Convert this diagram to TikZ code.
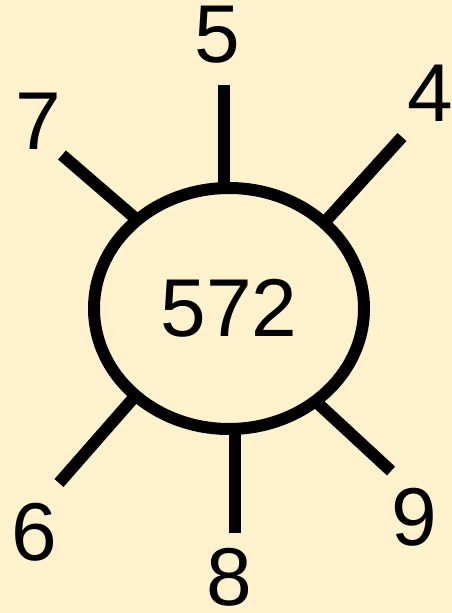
\documentclass[tikz,border=0pt]{standalone}
\usepackage{fontspec}
\setmainfont{Liberation Sans}
\usetikzlibrary{shapes.geometric}
\definecolor{bgyellow}{HTML}{FFF2CC}

\begin{document}
\begin{tikzpicture}[
  spoke/.style={line width=0.24cm},
  num/.style={inner sep=0pt,font=\fontsize{46.7}{56}\selectfont},
  hubnode/.style={ellipse,draw,line width=0.24cm,outer sep=0pt,inner sep=0pt,
    minimum width=5.40cm,minimum height=4.82cm,font=\fontsize{46.7}{56}\selectfont}
]

% ---- background ----
\fill[bgyellow] (0,0) rectangle (9.04,12.26);
\useasboundingbox (0,0) rectangle (9.04,12.26);

% ---- central ellipse ----
\node[hubnode] (hub) at (4.58,6.09) {572};

% ---- spoke ends ----
\coordinate (t5) at (4.48,10.56);
\coordinate (t4) at (8.04,9.52);
\coordinate (t7) at (1.24,9.16);
\coordinate (t6) at (1.18,2.60);
\coordinate (t8) at (4.70,1.60);
\coordinate (t9) at (7.82,2.84);

% ---- spokes ----
\draw[spoke] (t5 |- hub.north) -- (t5);
\draw[spoke] (hub.42.7) -- (t4);
\draw[spoke] (hub.136.4) -- (t7);
\draw[spoke] (hub.223.6) -- (t6);
\draw[spoke] (t8 |- hub.south) -- (t8);
\draw[spoke] (hub.313.9) -- (t9);

% ---- labels ----
\node[num] (l5) at (4.34,11.56) {5};
\node[num] (l4) at (8.60,10.40) {4};
\node[num] (l7) at (0.76,9.84) {7};
\node[num] (l6) at (0.68,1.62) {6};
\node[num] (l8) at (4.58,0.72) {8};
\node[num] (l9) at (8.28,1.92) {9};

\end{tikzpicture}
\end{document}
